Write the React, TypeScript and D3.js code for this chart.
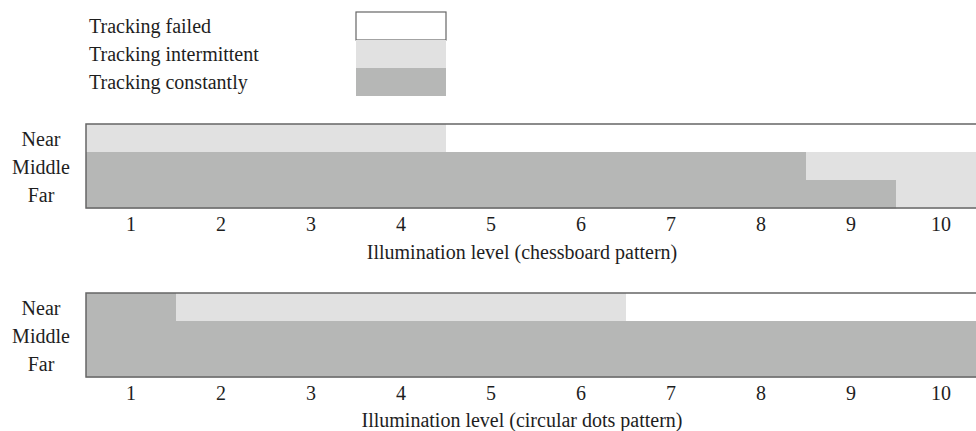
import React from "react";
import * as d3 from "d3";

const levels = ["1", "2", "3", "4", "5", "6", "7", "8", "9", "10"];
const distances = ["Near", "Middle", "Far"];
const legendLabels = ["Tracking failed", "Tracking intermittent", "Tracking constantly"];
// 0 = failed, 1 = intermittent, 2 = constantly
const chessNear = [1, 1, 1, 1, 0, 0, 0, 0, 0, 0];
const chessMiddle = [2, 2, 2, 2, 2, 2, 2, 2, 1, 1];
const chessFar = [2, 2, 2, 2, 2, 2, 2, 2, 2, 1];
const dotsNear = [2, 1, 1, 1, 1, 1, 0, 0, 0, 0];
const dotsMiddle = [2, 2, 2, 2, 2, 2, 2, 2, 2, 2];
const dotsFar = [2, 2, 2, 2, 2, 2, 2, 2, 2, 2];
const chartTitles = ["Illumination level (chessboard pattern)", "Illumination level (circular dots pattern)"];

const colors = ["#ffffff", "#e1e1e1", "#b6b7b6"];
const FONT = "'Liberation Serif', 'Times New Roman', serif";
const TEXT = "#1e1e1e";
const FS = 20;

function Panel({ top, rows, title, titleOffset }: { top: number; rows: number[][]; title: string; titleOffset: number }) {
  const left = 86;
  const x = d3.scaleBand().domain(levels).range([left, left + 900]);
  const y = d3.scaleBand().domain(distances).range([top, top + 84]);
  return (
    <g>
      {distances.map((d, ri) =>
        levels.map((l, ci) => (
          <rect
            key={d + l}
            x={x(l)}
            y={y(d)}
            width={x.bandwidth() + 0.5}
            height={y.bandwidth() + 0.5}
            fill={colors[rows[ri][ci]]}
          />
        ))
      )}
      <rect x={left} y={top} width={900} height={84} fill="none" stroke="#666" strokeWidth={1.5} />
      {distances.map((d) => (
        <text key={d} x={41} y={(y(d) as number) + y.bandwidth() / 2 + 8} textAnchor="middle" fontFamily={FONT} fontSize={FS} fill={TEXT}>
          {d}
        </text>
      ))}
      {levels.map((l) => (
        <text key={l} x={(x(l) as number) + x.bandwidth() / 2} y={top + 84 + 22.5} textAnchor="middle" fontFamily={FONT} fontSize={FS} fill={TEXT}>
          {l}
        </text>
      ))}
      <text x={522} y={top + 84 + titleOffset} textAnchor="middle" fontFamily={FONT} fontSize={FS} fill={TEXT}>
        {title}
      </text>
    </g>
  );
}

export default function App() {
  const ly = d3.scaleBand().domain(legendLabels).range([12, 96]);
  return (
    <svg width={976} height={431} style={{ position: "absolute", left: 0, top: 0, background: "#fff" }}>
      {legendLabels.map((t, i) => (
        <g key={t}>
          <rect
            x={356}
            y={ly(t)}
            width={90}
            height={ly.bandwidth()}
            fill={colors[i]}
            stroke={i === 0 ? "#666" : "none"}
            strokeWidth={1.2}
          />
          <text x={89} y={(ly(t) as number) + ly.bandwidth() / 2 + 7} fontFamily={FONT} fontSize={FS} fill={TEXT}>
            {t}
          </text>
        </g>
      ))}
      <Panel top={124} rows={[chessNear, chessMiddle, chessFar]} title={chartTitles[0]} titleOffset={51} />
      <Panel top={293} rows={[dotsNear, dotsMiddle, dotsFar]} title={chartTitles[1]} titleOffset={49.5} />
    </svg>
  );
}
